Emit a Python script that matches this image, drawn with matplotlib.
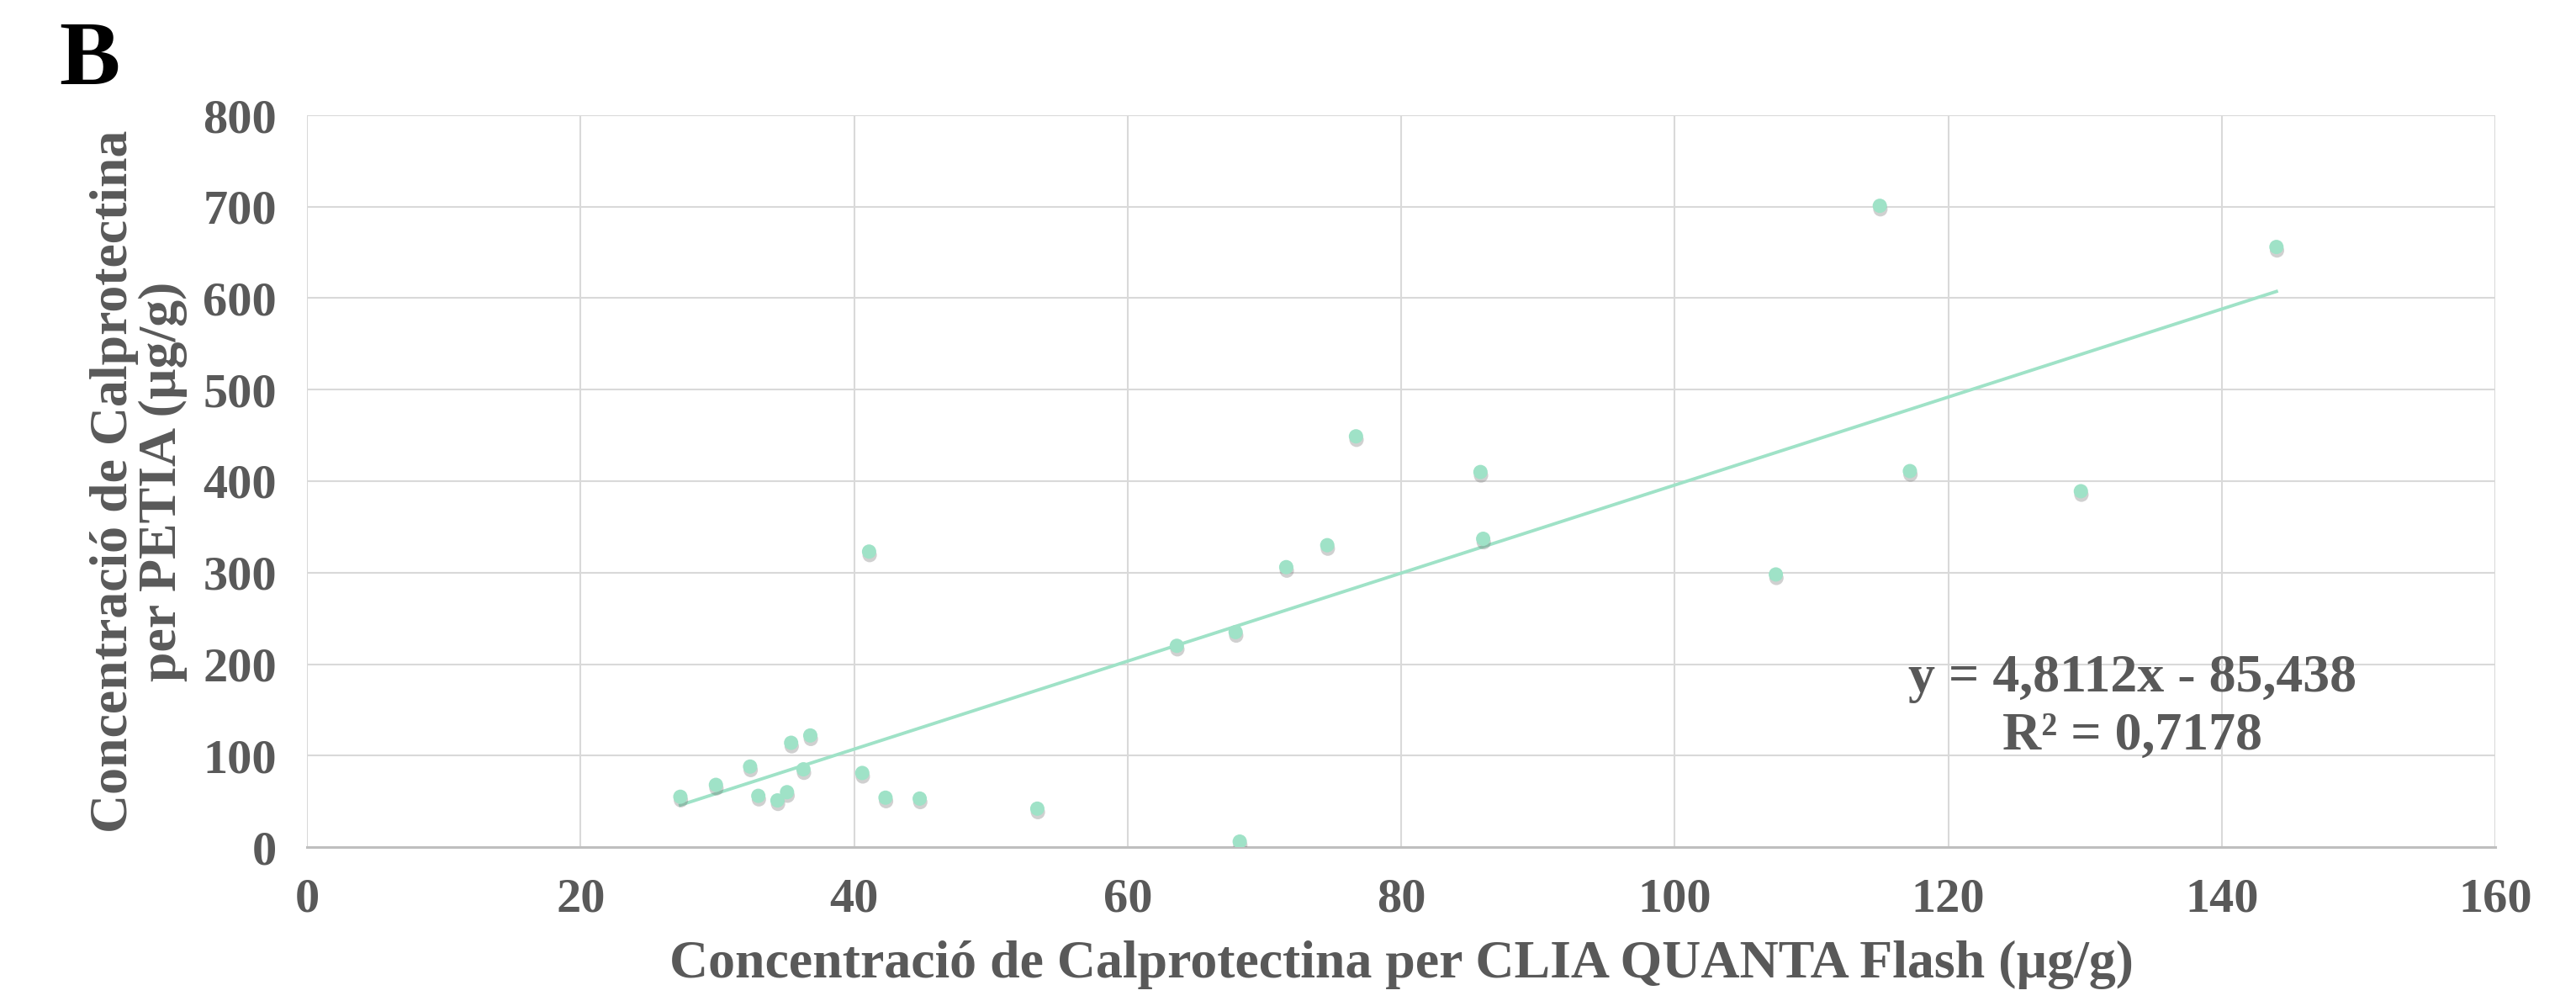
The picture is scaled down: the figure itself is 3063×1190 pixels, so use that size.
import matplotlib
matplotlib.use("Agg")
import matplotlib.pyplot as plt
import matplotlib.patheffects as pe
import numpy as np

# Dades llegides del gràfic
clia = [27.3, 29.9, 32.4, 33.0, 34.4, 35.1, 35.4, 36.3, 36.8, 40.6, 41.1,
        42.3, 44.8, 53.4, 63.6, 67.9, 68.2, 71.6, 74.6, 76.7, 85.8, 86.0,
        107.4, 115.0, 117.2, 129.7, 144.0]
petia = [55, 68, 88, 56, 51, 60, 114, 85, 122, 81, 323,
         54, 53, 42, 220, 235, 6, 306, 330, 449, 410, 337,
         298, 701, 411, 389, 656]
slope = 4.8112
intercept = -85.438
r2 = 0.7178

xticks = [0, 20, 40, 60, 80, 100, 120, 140, 160]
yticks = [0, 100, 200, 300, 400, 500, 600, 700, 800]

mint = "#9FE2C7"
grey_txt = "#595959"

plt.rcParams["font.family"] = ["Liberation Serif", "DejaVu Serif"]
plt.rcParams["font.weight"] = "bold"

W, H = 3063, 1190
fig = plt.figure(figsize=(W / 100, H / 100), dpi=100)
ax = fig.add_axes([365 / W, 1 - 1007 / H, (2967 - 365) / W, (1007 - 137) / H])

ax.set_xlim(0, 160)
ax.set_ylim(0, 800)
ax.set_xticks(xticks)
ax.set_yticks(yticks)
ax.grid(True, color="#D9D9D9", linewidth=1.5)
ax.set_axisbelow(True)
for s in ["top", "right", "left"]:
    ax.spines[s].set_visible(False)
ax.spines["bottom"].set_color("#BFBFBF")
ax.spines["bottom"].set_linewidth(2.2)
ax.tick_params(length=0, labelsize=42, labelcolor=grey_txt, pad=26)
for lab in ax.get_xticklabels() + ax.get_yticklabels():
    lab.set_fontweight("bold")

# línia de tendència
xl = np.array([min(clia), max(clia)])
ax.plot(xl, slope * xl + intercept, color=mint, linewidth=2.8, zorder=2)

ax.scatter(clia, petia, s=150, color=mint, edgecolor="none", zorder=3,
           path_effects=[pe.SimplePatchShadow(offset=(0.5, -3), shadow_rgbFace="#666666", alpha=0.3),
                         pe.Normal()])

ax.text(0.834, 0.19, f"y = {str(slope).replace('.', ',')}x - {str(-intercept).replace('.', ',')}\n"
        f"R² = {str(r2).replace('.', ',')}",
        transform=ax.transAxes, ha="center", va="center", fontsize=46,
        color=grey_txt, fontweight="bold", linespacing=1.25)

ax.set_xlabel("Concentració de Calprotectina per CLIA QUANTA Flash (µg/g)",
              fontsize=46, color=grey_txt, fontweight="bold", labelpad=16)
ax.set_ylabel("Concentració de Calprotectina\nper PETIA (µg/g)",
              fontsize=46, color=grey_txt, fontweight="bold", labelpad=13,
              linespacing=1.0)

fig.text(70 / W, 1 - 25 / H, "B", fontsize=78, fontweight="bold", color="black",
         ha="left", va="top")

fig.savefig("out.png", dpi=100, facecolor="white")
